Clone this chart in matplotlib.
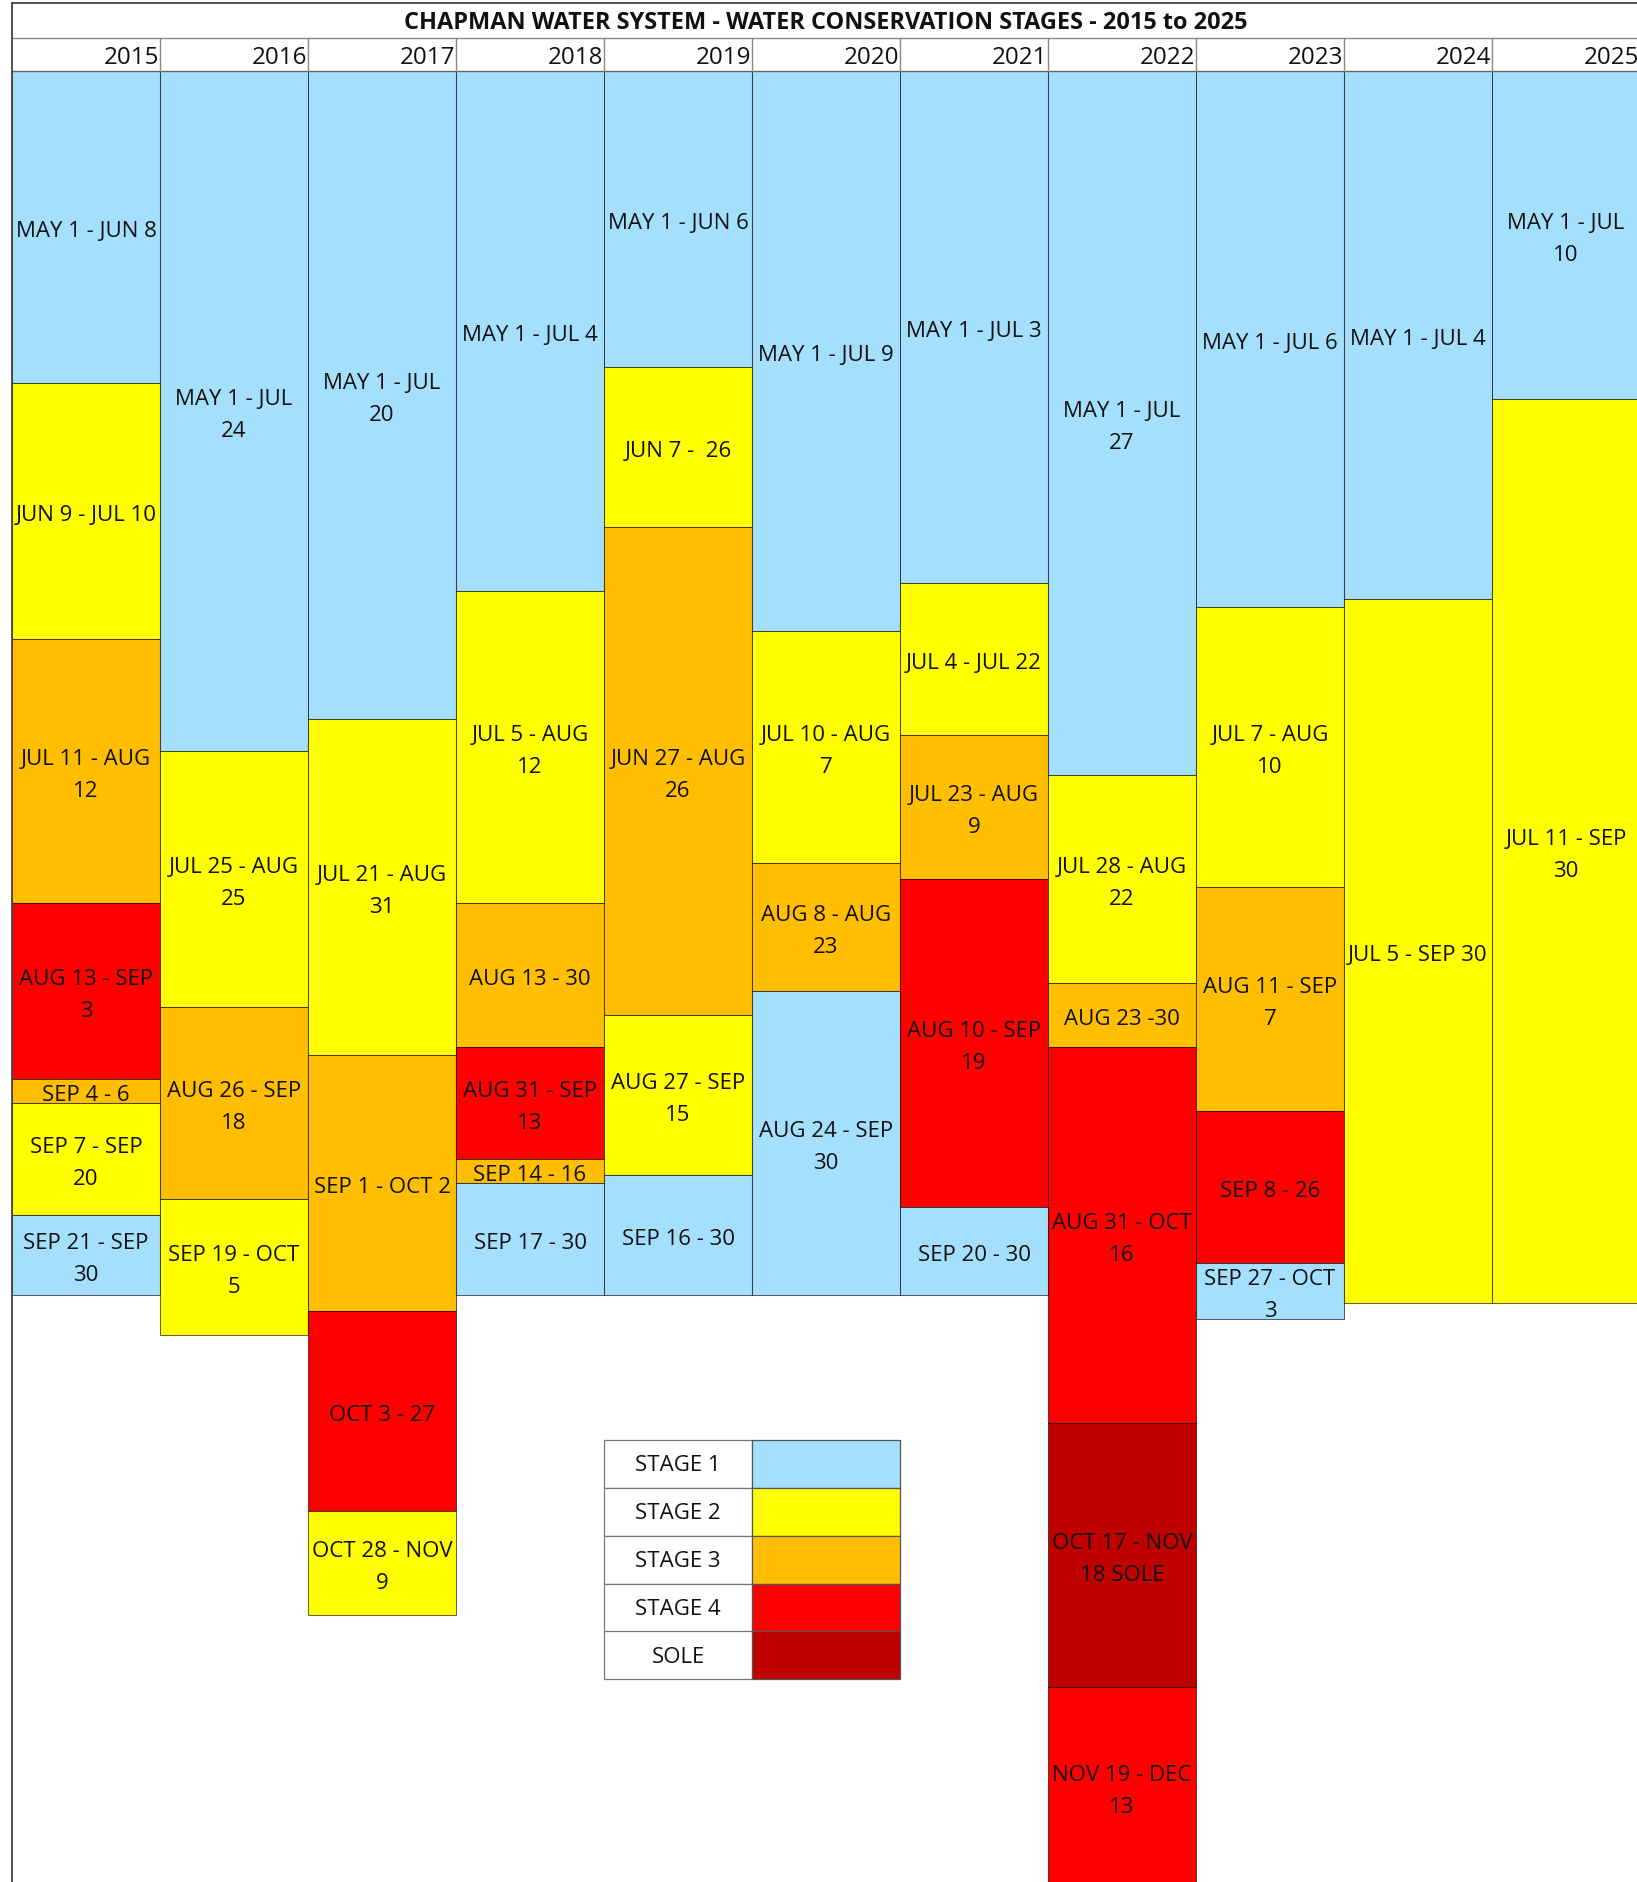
import matplotlib
matplotlib.use("Agg")
import matplotlib.pyplot as plt

plt.rcParams["font.family"] = ["Open Sans", "DejaVu Sans"]

# ---- data: one column per year, blocks top to bottom (height = days) ----
years = ["2015", "2016", "2017", "2018", "2019", "2020",
         "2021", "2022", "2023", "2024", "2025"]

labels = [
    ["MAY 1 - JUN 8", "JUN 9 - JUL 10", "JUL 11 - AUG\n12", "AUG 13 - SEP\n3",
     "SEP 4 - 6", "SEP 7 - SEP\n20", "SEP 21 - SEP\n30"],
    ["MAY 1 - JUL\n24", "JUL 25 - AUG\n25", "AUG 26 - SEP\n18", "SEP 19 - OCT\n5"],
    ["MAY 1 - JUL\n20", "JUL 21 - AUG\n31", "SEP 1 - OCT 2", "OCT 3 - 27",
     "OCT 28 - NOV\n9"],
    ["MAY 1 - JUL 4", "JUL 5 - AUG\n12", "AUG 13 - 30", "AUG 31 - SEP\n13",
     "SEP 14 - 16", "SEP 17 - 30"],
    ["MAY 1 - JUN 6", "JUN 7 -  26", "JUN 27 - AUG\n26", "AUG 27 - SEP\n15",
     "SEP 16 - 30"],
    ["MAY 1 - JUL 9", "JUL 10 - AUG\n7", "AUG 8 - AUG\n23", "AUG 24 - SEP\n30"],
    ["MAY 1 - JUL 3", "JUL 4 - JUL 22", "JUL 23 - AUG\n9", "AUG 10 - SEP\n19",
     "SEP 20 - 30"],
    ["MAY 1 - JUL\n27", "JUL 28 - AUG\n22", "AUG 23 -30", "AUG 31 - OCT\n16",
     "OCT 17 - NOV\n18 SOLE", "NOV 19 - DEC\n13"],
    ["MAY 1 - JUL 6", "JUL 7 - AUG\n10", "AUG 11 - SEP\n7", "SEP 8 - 26",
     "SEP 27 - OCT\n3"],
    ["MAY 1 - JUL 4", "JUL 5 - SEP 30"],
    ["MAY 1 - JUL\n10", "JUL 11 - SEP\n30"],
]

stages = [
    [1, 2, 3, 4, 3, 2, 1],
    [1, 2, 3, 2],
    [1, 2, 3, 4, 2],
    [1, 2, 3, 4, 3, 1],
    [1, 2, 3, 2, 1],
    [1, 2, 3, 1],
    [1, 2, 3, 4, 1],
    [1, 2, 3, 4, 5, 4],
    [1, 2, 3, 4, 1],
    [1, 2],
    [1, 2],
]

days = [
    [39, 32, 33, 22, 3, 14, 10],
    [85, 32, 24, 17],
    [81, 42, 32, 25, 13],
    [65, 39, 18, 14, 3, 14],
    [37, 20, 61, 20, 15],
    [70, 29, 16, 38],
    [64, 19, 18, 41, 11],
    [88, 26, 8, 47, 33, 25],
    [67, 35, 28, 19, 7],
    [66, 88],
    [41, 113],
]

legend_names = ["STAGE 1", "STAGE 2", "STAGE 3", "STAGE 4", "SOLE"]

COLORS = {1: "#A4DFFD", 2: "#FFFF00", 3: "#FFBF00", 4: "#FF0000", 5: "#BF0000"}
EDGE = (0, 0, 0, 0.6)

# ---- layout (x: one unit per column, y: one unit per day) ----
W, H = 1637, 1883
COL_PX, DAY_PX = 148.0, 8.0
LEFT_PX, TOP_PX = 12.0, 71.7
TITLE_TOP = -(TOP_PX - 3.7) / DAY_PX
YEAR_TOP = -(TOP_PX - 38.5) / DAY_PX

fig = plt.figure(figsize=(W / 100, H / 100), dpi=100)
ax = fig.add_axes([0, 0, 1, 1])
ax.set_xlim(-LEFT_PX / COL_PX, (W - LEFT_PX) / COL_PX)
ax.set_ylim((H - TOP_PX) / DAY_PX, -TOP_PX / DAY_PX)
ax.axis("off")

# blocks
for i in range(len(years)):
    tops = [sum(days[i][:k]) for k in range(len(days[i]))]
    ax.bar([i] * len(days[i]), days[i], bottom=tops, width=1, align="edge",
           color=[COLORS[s] for s in stages[i]], edgecolor=EDGE, linewidth=0.75)
    for t, d, lab in zip(tops, days[i], labels[i]):
        ax.text(i + 0.5, t + d / 2 + 0.45, lab, ha="center", va="center",
                fontsize=16, linespacing=1.68, color="#111111")

# header: title row + year row
ax.plot([0, len(years)], [TITLE_TOP, TITLE_TOP], color="#444444", lw=1.3)
ax.plot([0, len(years)], [YEAR_TOP, YEAR_TOP], color="#888888", lw=1.0)
ax.plot([0, len(years)], [0, 0], color="#666666", lw=1.0)
ax.plot([0, 0], [TITLE_TOP, (H - TOP_PX) / DAY_PX], color="#444444", lw=1.3)
for i, yr in enumerate(years):
    ax.plot([i + 1, i + 1], [YEAR_TOP, 0], color="#888888", lw=1.0)
    ax.text(i + 1 - 1 / COL_PX, -0.93, yr, ha="right", va="baseline",
            fontsize=17.4, color="#111111")
ax.text(len(years) / 2, -5.3,
        "CHAPMAN WATER SYSTEM - WATER CONSERVATION STAGES - 2015 to 2025",
        ha="center", va="baseline", fontsize=16.9, fontweight="bold",
        color="#111111")

# legend table
LEG_COL, LEG_TOP, LEG_ROW = 4, 171.1, 6
for k, name in enumerate(legend_names):
    y0 = LEG_TOP + k * LEG_ROW
    ax.bar(LEG_COL, LEG_ROW, bottom=y0, width=1, align="edge",
           color="white", edgecolor="#777777", linewidth=0.9)
    ax.bar(LEG_COL + 1, LEG_ROW, bottom=y0, width=1, align="edge",
           color=COLORS[k + 1], edgecolor="#555555", linewidth=0.9)
    ax.text(LEG_COL + 0.5, y0 + LEG_ROW / 2 + 0.15, name, ha="center",
            va="center", fontsize=16, color="#111111")

fig.savefig("out.png", dpi=100)
